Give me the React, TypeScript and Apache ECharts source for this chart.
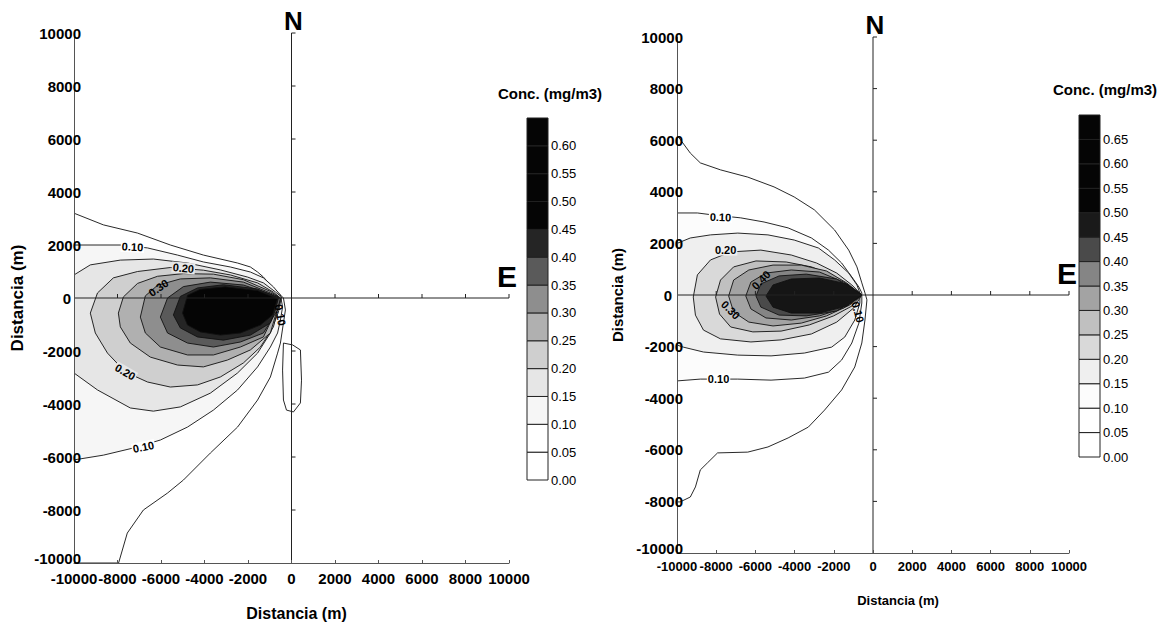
import React, { useEffect, useRef } from "react";
import * as echarts from "echarts";

// ---------- axes ----------
const AXIS_MIN = -10000;
const AXIS_MAX = 10000;
const AXIS_STEP = 2000;
const CROSS_TICKS = [-8000, -6000, -4000, -2000, 2000, 4000, 6000, 8000, 10000];

// ---------- contour levels (mg/m3) ----------
const LEVELS = [0.05, 0.1, 0.15, 0.2, 0.25, 0.3, 0.35, 0.4, 0.45];

// ---------- left panel contours (x, y in metres) ----------
const L05 = [[-10000,3200],[-8650,2760],[-7080,2450],[-5570,2000],[-4050,1620],[-2480,1320],[-1890,1170],[-1560,980],[-1290,790],[-970,490],[-600,190],[-370,0],[-280,-450],[-370,-940],[-510,-1700],[-640,-2080],[-970,-2980],[-1560,-3850],[-2480,-4870],[-3730,-5850],[-4970,-6870],[-5700,-7360],[-6810,-8000],[-7550,-8870],[-7950,-10000],[-10000,-10000]];
const L05_LOOP = [[-370,-1700],[50,-1770],[410,-1960],[460,-3100],[410,-3960],[90,-4300],[-230,-4230],[-370,-3850],[-410,-2720]];
const L10 = [[-10000,2000],[-7870,2000],[-6620,1890],[-5240,1620],[-4050,1360],[-2810,1170],[-1890,980],[-1290,760],[-830,420],[-510,110],[-410,-340],[-510,-830],[-640,-1320],[-970,-1850],[-1560,-2600],[-2480,-3470],[-3590,-4230],[-4780,-4870],[-6030,-5360],[-7270,-5660],[-8650,-5930],[-10000,-6110]];
const L15 = [[-10000,870],[-9250,1250],[-7870,1430],[-6350,1470],[-4780,1320],[-3270,1060],[-2020,790],[-1290,570],[-740,230],[-460,40],[-600,-530],[-970,-1320],[-1560,-2080],[-2480,-2830],[-3730,-3590],[-5110,-4110],[-6350,-4270],[-7410,-4150],[-8920,-3470],[-10000,-2830]];
const L20 = [[-9250,-570],[-8920,190],[-8190,760],[-7080,1000],[-5570,1150],[-4050,1050],[-2810,870],[-1560,570],[-830,220],[-510,0],[-640,-450],[-830,-1090],[-1430,-1850],[-2210,-2450],[-3270,-2980],[-4320,-3280],[-5570,-3360],[-6620,-3170],[-7640,-2790],[-8460,-2080],[-9020,-1320]];
const L25 = [[-7960,-570],[-7730,40],[-7080,550],[-6160,820],[-4970,920],[-3590,900],[-2210,690],[-970,250],[-510,0],[-640,-380],[-970,-1320],[-1890,-1960],[-2940,-2340],[-4050,-2600],[-5240,-2530],[-6490,-2230],[-7410,-1700],[-7870,-1090]];
const L30 = [[-6950,-720],[-6720,80],[-6160,480],[-5110,720],[-3730,760],[-2210,600],[-970,190],[-510,0],[-640,-340],[-1290,-1470],[-2350,-1850],[-3590,-2150],[-4780,-2150],[-6030,-1850],[-6720,-1320]];
const L35 = [[-6030,-720],[-5700,0],[-4970,430],[-3730,600],[-2210,490],[-970,150],[-510,-20],[-640,-450],[-1290,-1320],[-2350,-1660],[-3590,-1850],[-4780,-1700],[-5700,-1320]];
const L40 = [[-5430,-640],[-5110,60],[-4320,380],[-3130,500],[-1560,340],[-600,0],[-740,-450],[-970,-940],[-1890,-1400],[-3130,-1590],[-4320,-1470],[-5110,-1130]];
const L45 = [[-5010,-570],[-4780,100],[-4190,330],[-3040,420],[-1560,280],[-640,-30],[-870,-640],[-1430,-1020],[-2350,-1320],[-3270,-1400],[-4190,-1280],[-4780,-1020]];

// ---------- right panel contours ----------
const R05 = [[-10000,6200],[-9320,5500],[-8810,5120],[-7780,4850],[-6390,4570],[-5050,4190],[-4020,3800],[-2990,3300],[-1960,2520],[-1240,1740],[-820,1090],[-570,470],[-410,80],[-310,-190],[-410,-970],[-570,-1860],[-930,-2790],[-1600,-3680],[-2470,-4460],[-3300,-5120],[-4330,-5540],[-5360,-5890],[-6390,-6090],[-7930,-6120],[-8450,-6510],[-8810,-6780],[-9060,-7440],[-9320,-7830],[-9840,-8020],[-10000,-8020]];
const R10 = [[-10000,3180],[-8960,3180],[-8140,3100],[-6750,2990],[-5560,2830],[-4330,2600],[-3140,2210],[-2270,1740],[-1600,1240],[-1080,700],[-720,310],[-570,80],[-570,-310],[-720,-1090],[-1080,-1860],[-1600,-2520],[-2270,-2990],[-3500,-3220],[-5200,-3300],[-6900,-3260],[-8810,-3260],[-10000,-3330]];
const R15 = [[-10000,2000],[-9320,2210],[-8290,2330],[-6900,2400],[-5360,2330],[-4020,2130],[-2780,1820],[-1960,1360],[-1240,850],[-820,390],[-670,80],[-670,-310],[-930,-970],[-1440,-1630],[-2110,-2020],[-3500,-2250],[-5200,-2360],[-6900,-2330],[-8650,-2210],[-9680,-2020],[-10000,-1940]];
const R20 = [[-9170,-80],[-8960,780],[-8290,1360],[-7260,1670],[-5720,1740],[-4170,1550],[-2880,1240],[-1850,850],[-1080,390],[-570,0],[-980,-500],[-1850,-1050],[-3140,-1510],[-4690,-1740],[-6230,-1820],[-7780,-1700],[-8650,-1360],[-9060,-780]];
const R25 = [[-8030,-80],[-7780,580],[-7110,1090],[-5970,1320],[-4430,1280],[-3140,1090],[-2010,740],[-1190,350],[-570,0],[-1080,-430],[-2010,-810],[-3250,-1160],[-4690,-1400],[-6130,-1430],[-7260,-1240],[-7830,-740]];
const R30 = [[-7365,-40],[-7110,580],[-6335,970],[-5100,1160],[-3660,1160],[-2370,930],[-1340,465],[-570,0],[-1190,-390],[-2370,-810],[-3660,-1090],[-5100,-1200],[-6335,-1050],[-7110,-660]];
const R35 = [[-6490,-40],[-6230,500],[-5460,850],[-4170,970],[-2730,890],[-1490,500],[-570,0],[-1490,-500],[-2730,-810],[-4170,-970],[-5460,-890],[-6230,-540]];
const R40 = [[-5970,-40],[-5720,430],[-4790,740],[-3400,810],[-1850,620],[-570,0],[-1850,-620],[-3400,-810],[-4790,-780],[-5720,-470]];
const R45 = [[-5460,-40],[-5100,390],[-4170,620],[-2730,660],[-1340,430],[-570,0],[-1340,-430],[-2730,-700],[-4170,-700],[-5100,-470]];

// ---------- contour labels ----------
const LEFT_LABEL_POS = [[-7310,1930],[-4970,1130],[-6120,380],[-7640,-2790],[-6810,-5620],[-510,-640]];
const LEFT_LABEL_TEXT = ["0.10","0.20","0.30","0.20","0.10","0.10"];
const RIGHT_LABEL_POS = [[-7780,3020],[-7520,1740],[-5720,580],[-7260,-580],[-7880,-3260],[-770,-660]];
const RIGHT_LABEL_TEXT = ["0.10","0.20","0.40","0.30","0.10","0.10"];

// ---------- colour bars ----------
const LEFT_BAR_LEVELS = [0,0.05,0.1,0.15,0.2,0.25,0.3,0.35,0.4,0.45,0.5,0.55,0.6,0.65];
const RIGHT_BAR_LEVELS = [0,0.05,0.1,0.15,0.2,0.25,0.3,0.35,0.4,0.45,0.5,0.55,0.6,0.65,0.7];

// styles
const LEFT_FILLS = ["#ffffff","#ffffff","#f6f6f6","#e6e6e6","#cfcfcf","#b0b0b0","#8e8e8e","#5a5a5a","#252525","#050505"];
const RIGHT_FILLS = ["#ffffff","#fcfcfc","#efefef","#d9d9d9","#c0c0c0","#a3a3a3","#858585","#4a4a4a","#151515"];
const LEFT_BAR_COLORS = ["#ffffff","#ffffff","#f6f6f6","#e6e6e6","#cfcfcf","#b0b0b0","#8e8e8e","#5a5a5a","#252525","#050505","#050505","#050505","#050505"];
const RIGHT_BAR_COLORS = ["#ffffff","#ffffff","#fcfcfc","#efefef","#d9d9d9","#c0c0c0","#a3a3a3","#858585","#4a4a4a","#1a1a1a","#050505","#050505","#050505","#050505"];
const LEFT_LABEL_ROT = [-3,-5,35,-30,12,-80];
const RIGHT_LABEL_ROT = [-2,0,45,-45,0,-75];
const LEFT_LABEL_BG = ["#ffffff","#e6e6e6","transparent","#e6e6e6","#ffffff","transparent"];
const RIGHT_LABEL_BG = ["#ffffff","#efefef","transparent","transparent","#ffffff","transparent"];

const FONT = '"Liberation Sans", Arial, Helvetica, sans-serif';

function contourSeries(polys: number[][][], fills: string[], idx: number) {
  return {
    type: "custom",
    xAxisIndex: idx,
    yAxisIndex: idx,
    clip: true,
    silent: true,
    z: 1,
    data: polys.map((_, i) => [i]),
    renderItem: (params: any, api: any) => {
      const i = params.dataIndex;
      const pts = polys[i].map((p) => api.coord(p));
      return {
        type: "polygon",
        shape: { points: pts },
        style: { fill: fills[i], stroke: "#111", lineWidth: 0.9 },
      };
    },
  };
}

function crossSeries(idx: number) {
  return {
    type: "custom",
    xAxisIndex: idx,
    yAxisIndex: idx,
    clip: false,
    silent: true,
    z: 4,
    data: [[0, 0]],
    renderItem: (_p: any, api: any) => {
      const top = api.coord([0, AXIS_MAX]);
      const bottom = api.coord([0, AXIS_MIN]);
      const left = api.coord([AXIS_MIN, 0]);
      const right = api.coord([AXIS_MAX, 0]);
      const ls = { stroke: "#222", lineWidth: 1 };
      const children: any[] = [
        { type: "line", shape: { x1: top[0], y1: top[1], x2: bottom[0], y2: bottom[1] }, style: ls },
        { type: "line", shape: { x1: left[0], y1: left[1], x2: right[0], y2: right[1] }, style: ls },
      ];
      CROSS_TICKS.forEach((t) => {
        const a = api.coord([0, t]);
        children.push({ type: "line", shape: { x1: a[0], y1: a[1], x2: a[0] + 4, y2: a[1] }, style: ls });
        const b = api.coord([t, 0]);
        children.push({ type: "line", shape: { x1: b[0], y1: b[1], x2: b[0], y2: b[1] - 4 }, style: ls });
      });
      children.push({
        type: "text", x: top[0] + 2, y: top[1] - 12,
        style: { text: "N", font: `bold 26px ${FONT}`, fill: "#000", align: "center", verticalAlign: "middle", textAlign: "center", textVerticalAlign: "middle" },
      });
      children.push({
        type: "text", x: right[0] - 2, y: right[1] - 22,
        style: { text: "E", font: `bold 30px ${FONT}`, fill: "#000", align: "center", verticalAlign: "middle", textAlign: "center", textVerticalAlign: "middle" },
      });
      return { type: "group", children };
    },
  };
}

function labelSeries(pos: number[][], texts: string[], rots: number[], bgs: string[], idx: number) {
  return {
    type: "custom",
    xAxisIndex: idx,
    yAxisIndex: idx,
    clip: false,
    silent: true,
    z: 5,
    data: pos.map((_, i) => [i]),
    renderItem: (params: any, api: any) => {
      const i = params.dataIndex;
      const c = api.coord(pos[i]);
      return {
        type: "text",
        x: c[0],
        y: c[1],
        rotation: (rots[i] * Math.PI) / 180,
        style: {
          text: texts[i], font: `bold 11px ${FONT}`, fill: "#000",
          align: "center", verticalAlign: "middle", textAlign: "center", textVerticalAlign: "middle",
          backgroundColor: bgs[i], padding: [0, 1],
        },
      };
    },
  };
}

function barSeries(levels: number[], colors: string[], idx: number) {
  return {
    type: "custom",
    xAxisIndex: idx,
    yAxisIndex: idx,
    clip: false,
    silent: true,
    data: colors.map((_, i) => [i]),
    renderItem: (params: any, api: any) => {
      const i = params.dataIndex;
      const lo = api.coord([0, levels[i]]);
      const hi = api.coord([1, levels[i + 1]]);
      return {
        type: "rect",
        shape: { x: lo[0], y: hi[1], width: hi[0] - lo[0], height: lo[1] - hi[1] },
        style: { fill: colors[i], stroke: "#222", lineWidth: 1 },
      };
    },
  };
}

function plotXAxis(grid: number, fontSize: number, margin: number, nameGap: number, namePad: number[], nameSize: number) {
  return {
    gridIndex: grid, type: "value", min: AXIS_MIN, max: AXIS_MAX, interval: AXIS_STEP, position: "bottom", z: 10,
    axisLine: { show: true, onZero: false, lineStyle: { color: "#555", width: 1 } },
    axisTick: { show: true, inside: true, length: 3, lineStyle: { color: "#555" } },
    splitLine: { show: false },
    axisLabel: {
      fontSize, fontWeight: "bold", color: "#000", margin, fontFamily: FONT,
      showMinLabel: true, showMaxLabel: true, hideOverlap: false,
      formatter: (v: number) => String(v),
    },
    name: "Distancia (m)", nameLocation: "middle", nameGap,
    nameTextStyle: { fontSize: nameSize, fontWeight: "bold", color: "#000", fontFamily: FONT, padding: namePad },
  };
}

function plotYAxis(grid: number, fontSize: number, margin: number, zeroPad: number, nameGap: number, nameSize: number) {
  const rich = (pad: number[]) => ({ fontSize, fontWeight: "bold", color: "#000", fontFamily: FONT, padding: pad });
  return {
    gridIndex: grid, type: "value", min: AXIS_MIN, max: AXIS_MAX, interval: AXIS_STEP, position: "left", z: 10,
    axisLine: { show: true, onZero: false, lineStyle: { color: "#555", width: 1 } },
    axisTick: { show: false },
    splitLine: { show: false },
    axisLabel: {
      fontSize, fontWeight: "bold", color: "#000", margin, fontFamily: FONT,
      showMinLabel: true, showMaxLabel: true, hideOverlap: false,
      formatter: (v: number) => (v === 0 ? "{z|0}" : v === AXIS_MIN ? `{m|${v}}` : String(v)),
      rich: { z: rich([0, zeroPad, 0, 0]), m: rich([0, 0, 9, 0]) },
    },
    name: "Distancia (m)", nameLocation: "middle", nameGap,
    nameTextStyle: { fontSize: nameSize, fontWeight: "bold", color: "#000", fontFamily: FONT },
  };
}

function barYAxis(grid: number, max: number) {
  return {
    gridIndex: grid, type: "value", min: 0, max, interval: 0.05, position: "right",
    axisLine: { show: false }, axisTick: { show: false }, splitLine: { show: false },
    axisLabel: { fontSize: 13, color: "#000", margin: 3, fontFamily: FONT, showMinLabel: true, showMaxLabel: false, formatter: (v: number) => v.toFixed(2) },
  };
}

export default function App() {
  const ref = useRef<HTMLDivElement>(null);
  useEffect(() => {
    document.body.style.margin = "0";
    if (!ref.current) return;
    const chart = echarts.init(ref.current, null, { renderer: "svg" });
    const option: any = {
      animation: false,
      backgroundColor: "#ffffff",
      grid: [
        { left: 74, top: 33, width: 435, height: 530, outerBoundsMode: "none" },
        { left: 677, top: 37, width: 392, height: 516, outerBoundsMode: "none" },
        { left: 527, top: 118, width: 21, height: 362, outerBoundsMode: "none" },
        { left: 1079, top: 115, width: 21, height: 342, outerBoundsMode: "none" },
      ],
      xAxis: [
        plotXAxis(0, 15, 8, 42, [0, 0, 0, 10], 16),
        plotXAxis(1, 13, 7, 41, [0, 0, 0, 50], 13),
        { gridIndex: 2, type: "value", min: 0, max: 1, show: false },
        { gridIndex: 3, type: "value", min: 0, max: 1, show: false },
      ],
      yAxis: [
        plotYAxis(0, 15, -7, 10, 48, 17),
        plotYAxis(1, 15, -6, 11, 52, 15),
        barYAxis(2, 0.65),
        barYAxis(3, 0.7),
      ],
      graphic: [
        { type: "text", x: 550, y: 93, style: { text: "Conc. (mg/m3)", font: `bold 15px ${FONT}`, fill: "#000", align: "center", verticalAlign: "middle", textAlign: "center", textVerticalAlign: "middle" } },
        { type: "text", x: 1105, y: 89, style: { text: "Conc. (mg/m3)", font: `bold 15px ${FONT}`, fill: "#000", align: "center", verticalAlign: "middle", textAlign: "center", textVerticalAlign: "middle" } },
      ],
      series: [
        contourSeries([L05, L05_LOOP, L10, L15, L20, L25, L30, L35, L40, L45], LEFT_FILLS, 0),
        crossSeries(0),
        labelSeries(LEFT_LABEL_POS, LEFT_LABEL_TEXT, LEFT_LABEL_ROT, LEFT_LABEL_BG, 0),
        contourSeries([R05, R10, R15, R20, R25, R30, R35, R40, R45], RIGHT_FILLS, 1),
        crossSeries(1),
        labelSeries(RIGHT_LABEL_POS, RIGHT_LABEL_TEXT, RIGHT_LABEL_ROT, RIGHT_LABEL_BG, 1),
        barSeries(LEFT_BAR_LEVELS, LEFT_BAR_COLORS, 2),
        barSeries(RIGHT_BAR_LEVELS, RIGHT_BAR_COLORS, 3),
      ],
    };
    void LEVELS;
    chart.setOption(option);
    return () => chart.dispose();
  }, []);
  return <div ref={ref} style={{ width: 1167, height: 623 }} />;
}
